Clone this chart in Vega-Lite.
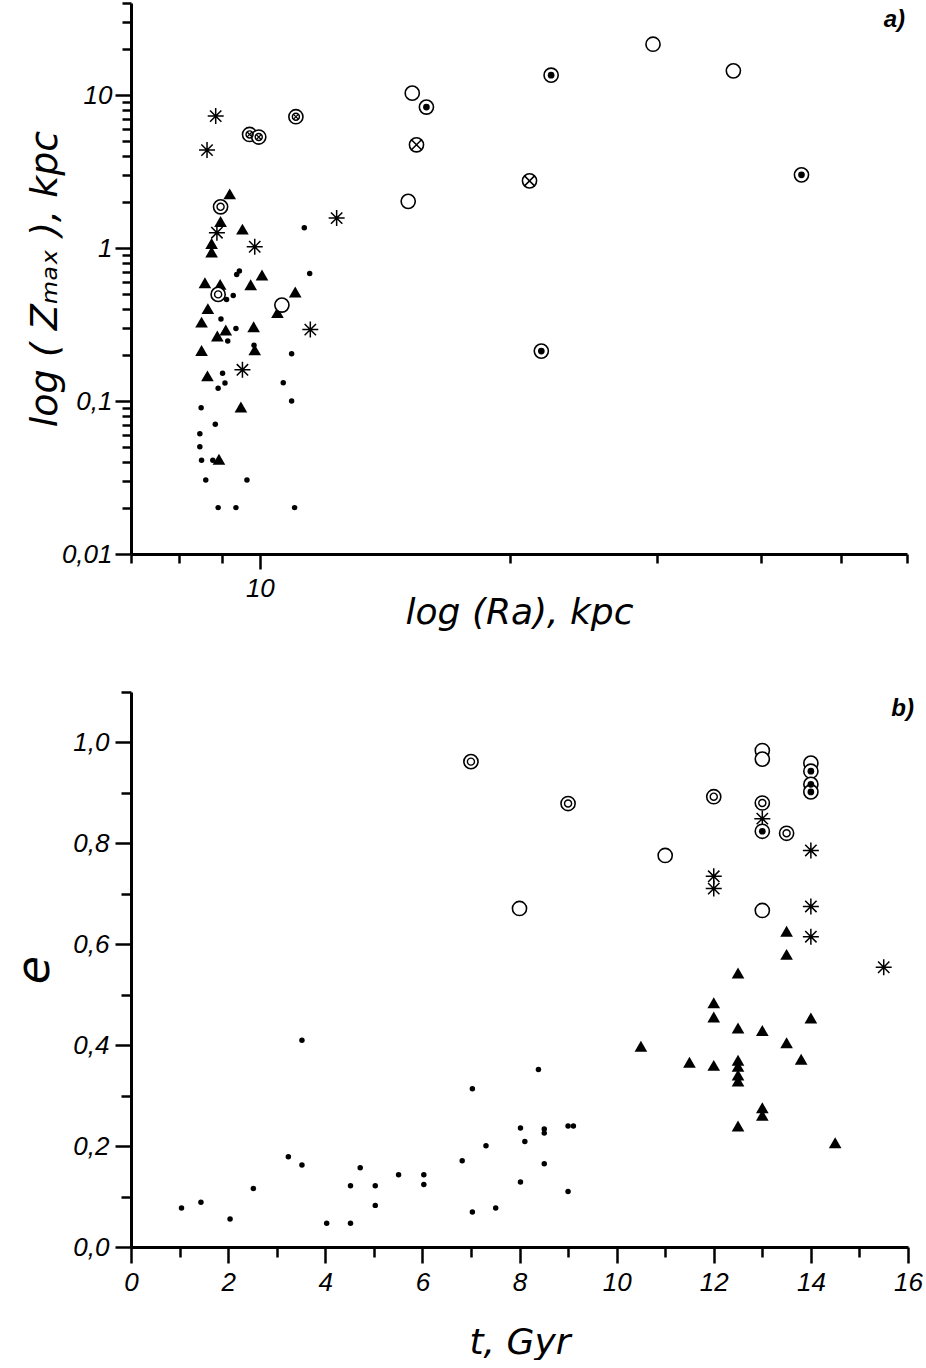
{
  "$schema": "https://vega.github.io/schema/vega-lite/v6.json",
  "background": "white",
  "padding": {"left": 11, "top": 1, "right": 0, "bottom": 0},
  "spacing": 60,
  "config": {
    "view": {"stroke": null},
    "axis": {
      "domainColor": "black", "domainWidth": 3, "tickColor": "black", "tickWidth": 2.5,
      "labelColor": "black", "labelFont": "Liberation Sans", "labelFontStyle": "italic", "labelFontSize": 26,
      "titleColor": "black", "titleFont": "DejaVu Sans", "titleFontStyle": "italic", "titleFontWeight": "normal", "titleFontSize": 36,
      "grid": false, "labelPadding": 6, "labelFlush": false, "labelOverlap": false
    },
    "title": {"font": "Liberation Sans", "fontStyle": "italic", "fontWeight": "bold", "fontSize": 24, "color": "black"}
  },
  "datasets": {
    "a": [
      {"Ra": 8.85, "Z": 7.29, "type": "star"}, {"Ra": 8.64, "Z": 4.37, "type": "star"}, {"Ra": 8.88, "Z": 1.26, "type": "star"},
      {"Ra": 9.86, "Z": 1.02, "type": "star"}, {"Ra": 12.37, "Z": 1.57, "type": "star"}, {"Ra": 11.5, "Z": 0.293, "type": "star"},
      {"Ra": 9.53, "Z": 0.16, "type": "star"},
      {"Ra": 9.72, "Z": 5.53, "type": "dcross"}, {"Ra": 9.97, "Z": 5.32, "type": "dcross"}, {"Ra": 11.05, "Z": 7.22, "type": "dcross"},
      {"Ra": 29.7, "Z": 21.5, "type": "open"}, {"Ra": 37.1, "Z": 14.4, "type": "open"}, {"Ra": 15.25, "Z": 10.3, "type": "open"},
      {"Ra": 15.08, "Z": 2.02, "type": "open"}, {"Ra": 10.63, "Z": 0.424, "type": "open"},
      {"Ra": 22.4, "Z": 13.5, "type": "dotted"}, {"Ra": 15.86, "Z": 8.35, "type": "dotted"}, {"Ra": 44.8, "Z": 3.01, "type": "dotted"},
      {"Ra": 21.8, "Z": 0.212, "type": "dotted"},
      {"Ra": 15.43, "Z": 4.73, "type": "cross"}, {"Ra": 21.1, "Z": 2.75, "type": "cross"},
      {"Ra": 8.97, "Z": 1.86, "type": "double"}, {"Ra": 8.91, "Z": 0.498, "type": "double"},
      {"Ra": 9.2, "Z": 2.26, "type": "tri"}, {"Ra": 8.97, "Z": 1.49, "type": "tri"}, {"Ra": 9.53, "Z": 1.33, "type": "tri"},
      {"Ra": 8.75, "Z": 1.07, "type": "tri"}, {"Ra": 8.75, "Z": 0.942, "type": "tri"}, {"Ra": 10.06, "Z": 0.666, "type": "tri"},
      {"Ra": 8.59, "Z": 0.593, "type": "tri"}, {"Ra": 8.96, "Z": 0.579, "type": "tri"}, {"Ra": 9.75, "Z": 0.575, "type": "tri"},
      {"Ra": 11.03, "Z": 0.516, "type": "tri"}, {"Ra": 10.5, "Z": 0.379, "type": "tri"}, {"Ra": 8.66, "Z": 0.402, "type": "tri"},
      {"Ra": 8.51, "Z": 0.328, "type": "tri"}, {"Ra": 9.83, "Z": 0.306, "type": "tri"}, {"Ra": 9.1, "Z": 0.291, "type": "tri"},
      {"Ra": 8.89, "Z": 0.266, "type": "tri"}, {"Ra": 8.51, "Z": 0.214, "type": "tri"}, {"Ra": 9.86, "Z": 0.216, "type": "tri"},
      {"Ra": 8.65, "Z": 0.146, "type": "tri"}, {"Ra": 9.49, "Z": 0.0914, "type": "tri"}, {"Ra": 8.93, "Z": 0.0416, "type": "tri"},
      {"Ra": 11.31, "Z": 1.357, "type": "dot"}, {"Ra": 9.38, "Z": 0.671, "type": "dot"}, {"Ra": 9.45, "Z": 0.708, "type": "dot"},
      {"Ra": 11.48, "Z": 0.683, "type": "dot"}, {"Ra": 9.29, "Z": 0.489, "type": "dot"}, {"Ra": 9.12, "Z": 0.461, "type": "dot"},
      {"Ra": 8.98, "Z": 0.344, "type": "dot"}, {"Ra": 9.36, "Z": 0.298, "type": "dot"}, {"Ra": 9.15, "Z": 0.247, "type": "dot"},
      {"Ra": 9.84, "Z": 0.2316, "type": "dot"}, {"Ra": 10.92, "Z": 0.2038, "type": "dot"}, {"Ra": 9.02, "Z": 0.1517, "type": "dot"},
      {"Ra": 9.08, "Z": 0.131, "type": "dot"}, {"Ra": 8.91, "Z": 0.1213, "type": "dot"}, {"Ra": 10.67, "Z": 0.1315, "type": "dot"},
      {"Ra": 10.92, "Z": 0.1, "type": "dot"}, {"Ra": 8.5, "Z": 0.0904, "type": "dot"}, {"Ra": 8.84, "Z": 0.0705, "type": "dot"},
      {"Ra": 8.47, "Z": 0.0611, "type": "dot"}, {"Ra": 8.47, "Z": 0.0503, "type": "dot"}, {"Ra": 8.51, "Z": 0.041, "type": "dot"},
      {"Ra": 8.78, "Z": 0.041, "type": "dot"}, {"Ra": 8.61, "Z": 0.0305, "type": "dot"}, {"Ra": 9.65, "Z": 0.0305, "type": "dot"},
      {"Ra": 8.91, "Z": 0.0201, "type": "dot"}, {"Ra": 9.36, "Z": 0.0201, "type": "dot"}, {"Ra": 11.01, "Z": 0.0201, "type": "dot"}
    ],
    "b": [
      {"t": 13, "e": 0.984, "type": "open"}, {"t": 13, "e": 0.967, "type": "open"}, {"t": 14, "e": 0.959, "type": "open"},
      {"t": 11, "e": 0.776, "type": "open"}, {"t": 8, "e": 0.671, "type": "open"}, {"t": 13, "e": 0.667, "type": "open"},
      {"t": 14, "e": 0.943, "type": "dotted"}, {"t": 14, "e": 0.917, "type": "dotted"}, {"t": 14, "e": 0.902, "type": "dotted"},
      {"t": 13, "e": 0.824, "type": "dotted"},
      {"t": 7, "e": 0.962, "type": "double"}, {"t": 9, "e": 0.879, "type": "double"}, {"t": 12, "e": 0.8925, "type": "double"},
      {"t": 13, "e": 0.88, "type": "double"}, {"t": 13.5, "e": 0.82, "type": "double"},
      {"t": 13, "e": 0.849, "type": "star"}, {"t": 14, "e": 0.786, "type": "star"}, {"t": 12, "e": 0.7347, "type": "star"},
      {"t": 12, "e": 0.7103, "type": "star"}, {"t": 14, "e": 0.675, "type": "star"}, {"t": 14, "e": 0.615, "type": "star"},
      {"t": 15.5, "e": 0.5545, "type": "star"},
      {"t": 13.5, "e": 0.626, "type": "tri"}, {"t": 13.5, "e": 0.58, "type": "tri"}, {"t": 12.5, "e": 0.543, "type": "tri"},
      {"t": 12, "e": 0.484, "type": "tri"}, {"t": 12, "e": 0.456, "type": "tri"}, {"t": 12.5, "e": 0.434, "type": "tri"},
      {"t": 13, "e": 0.429, "type": "tri"}, {"t": 14, "e": 0.454, "type": "tri"}, {"t": 10.5, "e": 0.398, "type": "tri"},
      {"t": 13.5, "e": 0.405, "type": "tri"}, {"t": 11.5, "e": 0.366, "type": "tri"}, {"t": 12, "e": 0.36, "type": "tri"},
      {"t": 12.5, "e": 0.37, "type": "tri"}, {"t": 12.5, "e": 0.358, "type": "tri"}, {"t": 12.5, "e": 0.341, "type": "tri"},
      {"t": 12.5, "e": 0.329, "type": "tri"}, {"t": 13.8, "e": 0.372, "type": "tri"}, {"t": 13, "e": 0.276, "type": "tri"},
      {"t": 13, "e": 0.261, "type": "tri"}, {"t": 12.5, "e": 0.24, "type": "tri"}, {"t": 14.5, "e": 0.2065, "type": "tri"},
      {"t": 1.04, "e": 0.0772, "type": "dot"}, {"t": 1.44, "e": 0.0885, "type": "dot"}, {"t": 2.04, "e": 0.0554, "type": "dot"},
      {"t": 2.52, "e": 0.116, "type": "dot"}, {"t": 3.24, "e": 0.1788, "type": "dot"}, {"t": 3.52, "e": 0.1624, "type": "dot"},
      {"t": 3.52, "e": 0.41, "type": "dot"}, {"t": 4.03, "e": 0.047, "type": "dot"}, {"t": 4.52, "e": 0.1215, "type": "dot"},
      {"t": 4.52, "e": 0.047, "type": "dot"}, {"t": 4.72, "e": 0.157, "type": "dot"}, {"t": 5.03, "e": 0.1215, "type": "dot"},
      {"t": 5.03, "e": 0.0825, "type": "dot"}, {"t": 5.51, "e": 0.1432, "type": "dot"}, {"t": 6.03, "e": 0.1432, "type": "dot"},
      {"t": 6.03, "e": 0.124, "type": "dot"}, {"t": 6.82, "e": 0.171, "type": "dot"}, {"t": 7.03, "e": 0.3135, "type": "dot"},
      {"t": 7.03, "e": 0.0693, "type": "dot"}, {"t": 7.31, "e": 0.2006, "type": "dot"}, {"t": 7.51, "e": 0.0772, "type": "dot"},
      {"t": 8.02, "e": 0.236, "type": "dot"}, {"t": 8.11, "e": 0.209, "type": "dot"}, {"t": 8.02, "e": 0.129, "type": "dot"},
      {"t": 8.39, "e": 0.3518, "type": "dot"}, {"t": 8.51, "e": 0.234, "type": "dot"}, {"t": 8.51, "e": 0.2257, "type": "dot"},
      {"t": 8.51, "e": 0.165, "type": "dot"}, {"t": 9.0, "e": 0.2396, "type": "dot"}, {"t": 9.11, "e": 0.2396, "type": "dot"},
      {"t": 9.0, "e": 0.11, "type": "dot"}
    ]
  },
  "vconcat": [
    {
      "width": 776, "height": 551,
      "title": {"text": "a)", "anchor": "end", "frame": "group", "offset": -30, "dx": -2},
      "data": {"name": "a"},
      "encoding": {
        "x": {"field": "Ra", "type": "quantitative",
              "scale": {"type": "log", "domain": [7, 60], "nice": false},
              "axis": {"title": "log (Ra), kpc", "values": [7, 8, 9, 10, 20, 30, 40, 50, 60],
                       "labelExpr": "datum.value == 10 ? '10' : ''",
                       "labelFontSize": {"condition": {"test": "datum.value == 10", "value": 26}, "value": 0},
                       "tickSize": {"condition": {"test": "datum.value == 10", "value": 15}, "value": 9},
                       "labelPadding": 6,
                       "titleY": 69, "titleBaseline": "alphabetic"}},
        "y": {"field": "Z", "type": "quantitative",
              "scale": {"type": "log", "domain": [0.01, 40], "nice": false},
              "axis": {"title": "log ( Zₘₐₓ ), kpc", "titleFontSize": 38,
                       "values": [0.01, 0.02, 0.03, 0.04, 0.05, 0.06, 0.07, 0.08, 0.09, 0.1, 0.2, 0.3, 0.4, 0.5, 0.6, 0.7, 0.8, 0.9, 1, 2, 3, 4, 5, 6, 7, 8, 9, 10, 20, 30, 40],
                       "labelExpr": "datum.value == 0.01 ? '0,01' : datum.value == 0.1 ? '0,1' : datum.value == 1 ? '1' : datum.value == 10 ? '10' : ''",
                       "labelFontSize": {"condition": {"test": "datum.value == 0.01 || datum.value == 0.1 || datum.value == 1 || datum.value == 10", "value": 26}, "value": 0},
                       "tickSize": {"condition": {"test": "datum.value == 0.01 || datum.value == 0.1 || datum.value == 1 || datum.value == 10", "value": 16}, "value": 9},
                       "labelPadding": 3,
                       "titleX": -86, "titleBaseline": "middle"}}
      },
      "layer": [
        {"transform": [{"filter": "datum.type == 'dot'"}],
         "mark": {"type": "point", "shape": "circle", "filled": true, "color": "black", "size": 30, "opacity": 1}},
        {"transform": [{"filter": "datum.type == 'tri'"}],
         "mark": {"type": "point", "shape": "triangle-up", "filled": true, "color": "black", "size": 160, "opacity": 1}},
        {"transform": [{"filter": "datum.type == 'star'"}],
         "mark": {"type": "point", "shape": "M0,-1L0,1M-1,0L1,0M-0.71,-0.71L0.71,0.71M-0.71,0.71L0.71,-0.71", "filled": false, "color": "black", "strokeWidth": 1.5, "size": 256, "opacity": 1}},
        {"transform": [{"filter": "indexof(['open','double','dotted','cross','dcross'], datum.type) >= 0"}],
         "mark": {"type": "point", "shape": "circle", "filled": true, "fill": "white", "stroke": "black", "strokeWidth": 1.6, "size": 200, "opacity": 1}},
        {"transform": [{"filter": "datum.type == 'dotted'"}],
         "mark": {"type": "point", "shape": "circle", "filled": true, "color": "black", "size": 45, "opacity": 1}},
        {"transform": [{"filter": "datum.type == 'double' || datum.type == 'dcross'"}],
         "mark": {"type": "point", "shape": "circle", "filled": false, "color": "black", "strokeWidth": 1.4, "size": 50, "opacity": 1}},
        {"transform": [{"filter": "datum.type == 'cross'"}],
         "mark": {"type": "point", "shape": "M-1,-1L1,1M-1,1L1,-1", "filled": false, "color": "black", "strokeWidth": 1.5, "size": 110, "opacity": 1}},
        {"transform": [{"filter": "datum.type == 'dcross'"}],
         "mark": {"type": "point", "shape": "M-1,-1L1,1M-1,1L1,-1", "filled": false, "color": "black", "strokeWidth": 1.3, "size": 28, "opacity": 1}}
      ]
    },
    {
      "width": 777, "height": 555,
      "title": {"text": "b)", "anchor": "end", "frame": "group", "offset": -30, "dx": 6},
      "data": {"name": "b"},
      "encoding": {
        "x": {"field": "t", "type": "quantitative",
              "scale": {"domain": [0, 16], "nice": false, "zero": false},
              "axis": {"title": "t, Gyr", "values": [0, 1, 2, 3, 4, 5, 6, 7, 8, 9, 10, 11, 12, 13, 14, 15, 16],
                       "labelExpr": "datum.value % 2 == 0 ? format(datum.value, 'd') : ''",
                       "labelFontSize": {"condition": {"test": "datum.value % 2 == 0", "value": 26}, "value": 0},
                       "tickSize": {"condition": {"test": "datum.value % 2 == 0", "value": 16}, "value": 10},
                       "labelPadding": 6,
                       "titleY": 106, "titleBaseline": "alphabetic"}},
        "y": {"field": "e", "type": "quantitative",
              "scale": {"domain": [0, 1.1], "nice": false, "zero": false},
              "axis": {"title": "e",
                       "values": [0, 0.1, 0.2, 0.3, 0.4, 0.5, 0.6, 0.7, 0.8, 0.9, 1.0, 1.1],
                       "labelExpr": "round(datum.value * 10) % 2 == 0 ? replace(format(datum.value, '.1f'), '.', ',') : ''",
                       "labelFontSize": {"condition": {"test": "round(datum.value * 10) % 2 == 0", "value": 26}, "value": 0},
                       "tickSize": {"condition": {"test": "round(datum.value * 10) % 2 == 0", "value": 16}, "value": 10},
                       "labelPadding": 6,
                       "titleX": -97, "titleBaseline": "middle", "titleFontSize": 46}}
      },
      "layer": [
        {"transform": [{"filter": "datum.type == 'dot'"}],
         "mark": {"type": "point", "shape": "circle", "filled": true, "color": "black", "size": 30, "opacity": 1}},
        {"transform": [{"filter": "datum.type == 'tri'"}],
         "mark": {"type": "point", "shape": "triangle-up", "filled": true, "color": "black", "size": 160, "opacity": 1}},
        {"transform": [{"filter": "datum.type == 'star'"}],
         "mark": {"type": "point", "shape": "M0,-1L0,1M-1,0L1,0M-0.71,-0.71L0.71,0.71M-0.71,0.71L0.71,-0.71", "filled": false, "color": "black", "strokeWidth": 1.5, "size": 256, "opacity": 1}},
        {"transform": [{"filter": "indexof(['open','double','dotted'], datum.type) >= 0"}],
         "mark": {"type": "point", "shape": "circle", "filled": true, "fill": "white", "stroke": "black", "strokeWidth": 1.6, "size": 200, "opacity": 1}},
        {"transform": [{"filter": "datum.type == 'dotted'"}],
         "mark": {"type": "point", "shape": "circle", "filled": true, "color": "black", "size": 45, "opacity": 1}},
        {"transform": [{"filter": "datum.type == 'double'"}],
         "mark": {"type": "point", "shape": "circle", "filled": false, "color": "black", "strokeWidth": 1.4, "size": 50, "opacity": 1}}
      ]
    }
  ]
}
